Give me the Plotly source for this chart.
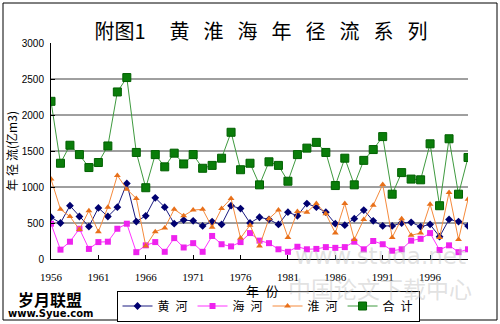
import plotly.graph_objects as go

years = list(range(1956, 2001))
huanghe = [580, 500, 740, 590, 450, 710, 590, 720, 1050, 520,
           600, 850, 720, 490, 540, 530, 460, 520, 480, 740,
           700, 500, 580, 550, 480, 650, 600, 770, 720, 650,
           490, 470, 560, 680, 530, 460, 460, 500, 510, 450,
           480, 310, 550, 520, 460]
haihe = [490, 130, 240, 420, 140, 235, 240, 420, 490, 95,
         190, 235, 100, 290, 160, 220, 100, 320, 205, 175,
         235, 360, 255, 220, 135, 100, 170, 135, 140, 165,
         155, 165, 240, 135, 250, 205, 115, 135, 255, 280,
         360, 125, 190, 95, 135]
huaihe = [1110, 690, 590, 410, 670, 380, 720, 1160, 970, 840,
          180, 380, 430, 690, 600, 680, 690, 440, 700, 840,
          290, 470, 180, 560, 680, 300, 660, 650, 770, 630,
          360, 770, 270, 550, 745, 1035, 300, 560, 330, 360,
          760, 300, 925, 270, 830]
heji = [2190, 1330, 1580, 1450, 1270, 1340, 1570, 2320, 2520, 1480,
        990, 1450, 1280, 1470, 1320, 1450, 1260, 1300, 1400, 1760,
        1240, 1330, 1030, 1350, 1300, 1080, 1450, 1540, 1620, 1480,
        1020, 1400, 1030, 1370, 1520, 1700, 900, 1200, 1110, 1100,
        1600, 740, 1670, 900, 1410]

x_ticks = [1956, 1961, 1966, 1971, 1976, 1981, 1986, 1991, 1996]
y_ticks = [0, 500, 1000, 1500, 2000, 2500, 3000]
grid_vals = [500, 1000, 1500, 2000, 2500]

CJK = "Noto Sans CJK SC"
SP = "\u2002"   # en space
SP2 = "\u2002\u2009"
SPS = "\u2005"

def spaced(chars, sep):
    return sep.join(chars)

fig = go.Figure()
fig.add_trace(go.Scatter(x=years, y=huanghe, name=spaced("黄河", SP), mode="lines+markers",
                         line=dict(color="#1a1a80", width=1),
                         marker=dict(symbol="diamond", size=6, color="#000070")))
fig.add_trace(go.Scatter(x=years, y=haihe, name=spaced("海河", SP), mode="lines+markers",
                         line=dict(color="#ff33ff", width=1),
                         marker=dict(symbol="square", size=6, color="#ee22ee")))
fig.add_trace(go.Scatter(x=years, y=huaihe, name=spaced("淮河", SP), mode="lines+markers",
                         line=dict(color="#f58a3c", width=1),
                         marker=dict(symbol="triangle-up", size=6, color="#e8701a")))
fig.add_trace(go.Scatter(x=years, y=heji, name=spaced("合计", SP), mode="lines+markers",
                         line=dict(color="#3f9a3f", width=1),
                         marker=dict(symbol="square", size=8, color="#0a7d0a",
                                     line=dict(color="#006000", width=1))))

shapes = []
for g in grid_vals:
    shapes.append(dict(type="line", xref="paper", yref="y", x0=0, x1=1, y0=g, y1=g,
                       line=dict(color="#404040", width=1), layer="below"))
# outer chart border
shapes.append(dict(type="rect", xref="paper", yref="paper",
                   x0=(3 - 51) / 417, x1=(497 - 51) / 417,
                   y0=(259 - 320) / 216, y1=(259 - 3) / 216,
                   line=dict(color="#000000", width=1), fillcolor="rgba(0,0,0,0)", layer="below"))

title_text = "附图1" + SP + SP2 + spaced("黄淮海年径流系列", SP2)

def ann(text, px, py, font):
    return dict(text=text, xref="paper", yref="paper", x=(px - 51) / 417, y=(259 - py) / 216,
                xanchor="center", yanchor="middle", showarrow=False, font=font)

annotations = [
    ann("www.studa.net", 380, 256, dict(family="DejaVu Sans", size=23, color="rgba(190,190,190,0.45)")),
    ann("中国论文下载中心", 380, 288, dict(family=CJK, size=23, color="rgba(190,190,190,0.45)")),
    ann("<b>岁月联盟</b>", 50, 299, dict(family=CJK, size=16, color="#000000")),
    ann("<b>www.Syue.com</b>", 51, 313, dict(family="DejaVu Sans", size=10, color="#000000")),
    ann(spaced("年份", SP), 262, 290, dict(family=CJK, size=13, color="#000000")),
]

fig.update_layout(
    width=500, height=324,
    margin=dict(l=51, r=32, t=43, b=65, pad=0, autoexpand=False),
    paper_bgcolor="#ffffff", plot_bgcolor="#ffffff",
    title=dict(text=title_text, x=261 / 500, xanchor="center",
               y=1 - 32 / 324, yanchor="middle",
               font=dict(family=CJK, size=20, color="#000000")),
    xaxis=dict(range=[1956, 2000], tickvals=x_ticks, ticktext=[str(t) for t in x_ticks],
               showgrid=False, zeroline=False, showline=True, linecolor="#000000", linewidth=1,
               ticks="inside", ticklen=4, tickcolor="#000000", ticklabelstandoff=8,
               tickfont=dict(family="Liberation Serif", size=11, color="#000000")),
    yaxis=dict(range=[0, 3000], tickvals=y_ticks, showgrid=False, zeroline=False,
               showline=True, linecolor="#000000", linewidth=1,
               ticks="inside", ticklen=4, tickcolor="#000000", ticklabelstandoff=4,
               tickfont=dict(family="Liberation Sans", size=10, color="#000000"),
               title=dict(text=spaced("年径流", SPS) + "(亿m3)",
                          font=dict(family=CJK, size=12, color="#000000"), standoff=1)),
    legend=dict(orientation="h", xref="container", yref="container",
                x=268 / 500, xanchor="center", y=1 - 306 / 324,
                yanchor="middle", bordercolor="#000000", borderwidth=1, bgcolor="#ffffff",
                font=dict(family=CJK, size=12, color="#000000"),
                itemwidth=30, tracegroupgap=0),
    shapes=shapes,
    annotations=annotations,
    showlegend=True,
)

fig.write_html("out.html")
